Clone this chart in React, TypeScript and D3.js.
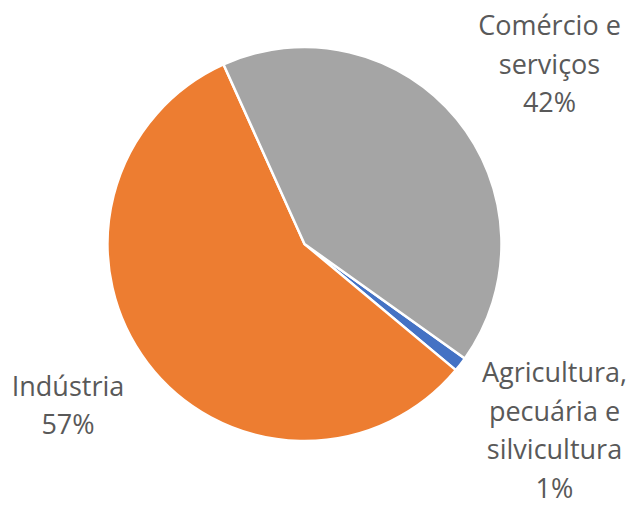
import React, { useRef, useEffect } from "react";
import * as d3 from "d3";

// sector shares (%), in sheet order
const sectors = ["Agricultura, pecuária e silvicultura", "Indústria", "Comércio e serviços"];
const shares = [1.2, 57.2, 41.6];
const shareLabels = ["1%", "57%", "42%"];
const labelLines = [
  ["Agricultura,", "pecuária e", "silvicultura"],
  ["Indústria"],
  ["Comércio e", "serviços"],
];
const colors = ["#4472C4", "#ED7D31", "#A5A5A5"];

const App = () => {
  const ref = useRef<SVGSVGElement | null>(null);
  const width = 633;
  const height = 506;

  useEffect(() => {
    const svg = d3.select(ref.current);
    svg.selectAll("*").remove();

    const cx = 304.5;
    const cy = 244;
    const radius = 197;
    const g = svg.append("g").attr("transform", `translate(${cx},${cy})`);

    const data = sectors.map((name, i) => ({ name, value: shares[i], i }));
    const pie = d3
      .pie<any>()
      .sort(null)
      .value((d) => d.value)
      .startAngle((125.5 * Math.PI) / 180)
      .endAngle((125.5 * Math.PI) / 180 + 2 * Math.PI);
    const arc = d3.arc<any>().innerRadius(0).outerRadius(radius);

    g.selectAll("path")
      .data(pie(data))
      .enter()
      .append("path")
      .attr("d", arc)
      .attr("fill", (d) => colors[d.data.i])
      .attr("stroke", "#fff")
      .attr("stroke-width", 2.5)
      .attr("stroke-linejoin", "round");

    // label block centres, relative to pie centre (Excel "best fit" outside)
    const labelOffset = [
      [250, 186.5],
      [-236.5, 161.5],
      [245, -179.5],
    ];
    const lineH = 38.5;
    const fontSize = 27;

    data.forEach((d, i) => {
      const lines = [...labelLines[i], shareLabels[i]];
      const [ox, oy] = labelOffset[i];
      const t = g
        .append("text")
        .attr("text-anchor", "middle")
        .attr("font-family", "'Open Sans', sans-serif")
        .attr("font-size", fontSize)
        .attr("fill", "#595959");
      lines.forEach((ln, k) => {
        t.append("tspan")
          .attr("x", ox)
          .attr("y", oy + (k - (lines.length - 1) / 2) * lineH + fontSize * 0.35)
          .text(ln);
      });
    });
  }, []);

  return (
    <svg
      ref={ref}
      width={width}
      height={height}
      style={{ position: "absolute", left: 0, top: 0, background: "#fff" }}
    />
  );
};

export default App;
